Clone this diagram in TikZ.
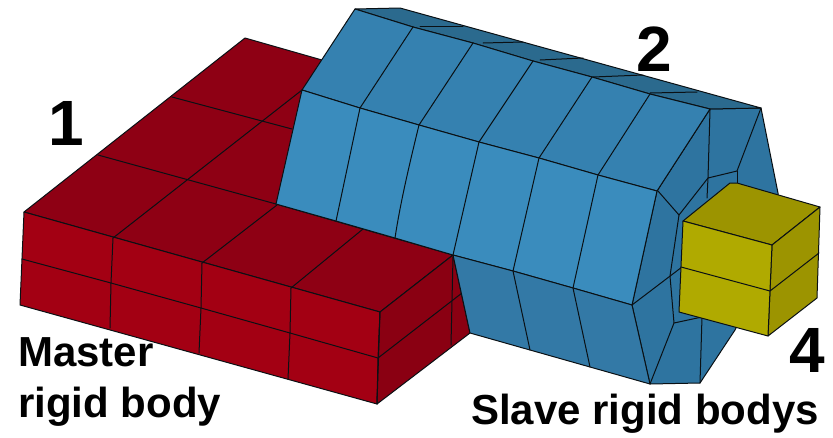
\documentclass[tikz,border=0pt]{standalone}
\usepackage{fontspec}
\setmainfont{Liberation Sans}
\definecolor{redtop}{HTML}{8E0014}
\definecolor{redfront}{HTML}{A30013}
\definecolor{redside}{HTML}{8A0012}
\definecolor{bluelight}{HTML}{3A8CBD}
\definecolor{bluemid}{HTML}{3581B0}
\definecolor{bluelow}{HTML}{3379A6}
\definecolor{bluecap}{HTML}{2E74A0}
\definecolor{bluestrip}{HTML}{2B6A8E}
\definecolor{yelfront}{HTML}{B0AA00}
\definecolor{yeltop}{HTML}{9C9400}
\definecolor{meshline}{HTML}{0A1014}
\tikzset{
  meshface/.style={draw=meshline,line width=1pt,line join=round},
  meshedge/.style={draw=meshline,line width=1pt,line cap=round,line join=round},
  biglabel/.style={font=\bfseries\fontsize{64}{64}\selectfont,inner sep=0pt,anchor=base west},
  caption/.style={font=\bfseries\fontsize{42}{42}\selectfont,inner sep=0pt,anchor=base west}
}
\begin{document}
\begin{tikzpicture}[x=1pt,y=-1pt]
\useasboundingbox (0,0) rectangle (833,437);
% red block
\draw[meshface,fill=redtop] (24,212) -- (245,38) -- (322,60) -- (276,204) -- (453,255) -- (380,312) -- cycle;
\draw[meshface,fill=redfront] (24,212) -- (380,312) -- (377,404) -- (20,305) -- cycle;
\draw[meshface,fill=redside] (380,312) -- (453,255) -- (470,333) -- (377,404) -- cycle;
\draw[meshedge] (172,97) -- (292,129);
\draw[meshedge] (98,155) -- (276,204);
\draw[meshedge] (113,238) -- (302,90);
\draw[meshedge] (202,263) -- (277,205);
\draw[meshedge] (291,288) -- (363,229);
\draw[meshedge] (22,259) -- (111,283) -- (201,308) -- (290,333) -- (378,358) -- (462,293);
\draw[meshedge] (113,238) -- (111,283) -- (110,328);
\draw[meshedge] (202,263) -- (201,308) -- (199,353);
\draw[meshedge] (291,288) -- (290,333) -- (288,379);
\draw[meshedge] (380,312) -- (378,358) -- (377,404);
\draw[meshedge] (453,257) -- (451,345);
% blue cylinder
\draw[meshface,fill=bluecap] (710,109) -- (761,108) -- (778,193) -- (778,240) -- (735,330) -- (700,383) -- (650,384) -- (632,305) -- (657,191) -- cycle;
\draw[meshface,fill=bluestrip] (355,9) -- (400,8) -- (761,108) -- (710,109) -- (650,94) -- (592,77) -- (533,61) -- (473,43) -- (413,27) -- cycle;
\draw[meshface,fill=bluemid] (355,9) -- (413,27) -- (473,43) -- (533,61) -- (592,77) -- (650,94) -- (710,109) -- (657,191) -- (598,175) -- (539,158) -- (479,142) -- (419,125) -- (360,108) -- (302,90) -- cycle;
\draw[meshface,fill=bluelight] (302,90) -- (360,108) -- (419,125) -- (479,142) -- (539,158) -- (598,175) -- (657,191) -- (632,305) -- (573,288) -- (513,271) -- (453,255) -- (395,238) -- (336,221) -- (276,204) -- cycle;
\draw[meshface,fill=bluelow] (453,255) -- (513,271) -- (573,288) -- (632,305) -- (650,384) -- (590,367) -- (530,350) -- (470,333) -- cycle;
% strip details
\draw[meshedge] (420,26) -- (463,26);
\draw[meshedge] (483,43) -- (523,42);
\draw[meshedge] (540,60) -- (583,58);
\draw[meshedge] (593,77) -- (643,75);
\draw[meshedge] (650,93) -- (697,92);
% cylinder mesh
\draw[meshedge] (413,27) -- (360,108) -- (336,221);
\draw[meshedge] (473,43) -- (419,125) .. controls (408,170) and (400,205) .. (395,238);
\draw[meshedge] (533,61) -- (479,142) -- (453,255);
\draw[meshedge] (592,77) -- (539,158) -- (513,271) -- (530,350);
\draw[meshedge] (650,94) -- (598,175) -- (573,288) -- (590,367);
% end cap mesh
\draw[meshedge] (710,110) -- (708,178) -- (737,171) -- (761,108);
\draw[meshedge] (737,171) -- (737,184);
\draw[meshedge] (708,178) -- (707,198);
\draw[meshedge] (708,178) -- (679,215) -- (658,191);
\draw[meshedge] (679,215) -- (670,276) -- (674,323) -- (650,384);
\draw[meshedge] (632,305) -- (682,267);
\draw[meshedge] (674,323) -- (702,317) -- (700,383);
% yellow block
\draw[meshface,fill=yeltop] (683,221) -- (730,183) -- (737,183) -- (820,207) -- (772,245) -- cycle;
\draw[meshface,fill=yeltop] (772,245) -- (820,207) -- (817,298) -- (768,336) -- cycle;
\draw[meshface,fill=yelfront] (683,221) -- (772,245) -- (768,336) -- (679,312) -- cycle;
\draw[meshedge] (681,267) -- (770,291) -- (819,253);
% labels
\node[biglabel] (one) at (48,145) {1};
\node[biglabel] (two) at (636,71) {2};
\node[biglabel] (four) at (789,372) {4};
\node[caption] (master) at (18,366) {Master};
\node[caption] (rigid) at (18,417) {rigid body};
\node[caption] (slave) at (471,424) {Slave rigid bodys};
\end{tikzpicture}
\end{document}
